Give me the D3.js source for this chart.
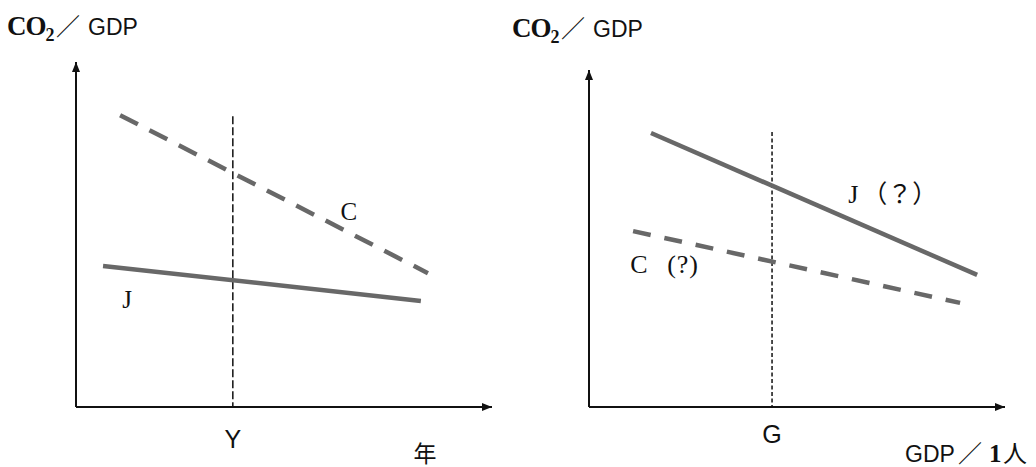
<!DOCTYPE html>
<html><head><meta charset="utf-8">
<script src="https://cdn.jsdelivr.net/npm/d3@7/dist/d3.min.js"></script>
<style>body{margin:0;background:#fff}svg{display:block}</style>
</head><body>
<script>
// ---- data (abstract units, 0..100 on both axes) ----
const leftC = [[10.6, 84.6], [84.6, 38.8]];
const leftJ = [[6.5, 40.9], [82.9, 30.7]];
const leftMark = 37.7, leftMarkTop = 84.3;
const rightJ = [[14.9, 81.3], [93.3, 39.2]];
const rightC = [[10.6, 52.2], [89.2, 30.9]];
const rightMark = 44.0, rightMarkTop = 81.6;
const leftLabels = {C: [65.6, 54.2], J: [12.3, 28.7]};
const rightLabels = {J: [62.3, 60.5], C: [9.9, 39.8]};
const tickLeft = "Y", tickRight = "G";
const xTitleLeft = "年", xTitleRight = ["GDP", "／", "1", "人"];

const W = 1036, H = 467;
const svg = d3.select("body").append("svg").attr("width", W).attr("height", H);
const gray = "#686868";
const serif = "Liberation Serif, Times New Roman, serif";
const sans = "Liberation Sans, Arial, sans-serif";
const cjk = "Noto Sans CJK JP, sans-serif";

svg.append("defs").append("marker").attr("id", "arr").attr("viewBox", "0 0 10 10")
  .attr("refX", 10).attr("refY", 5).attr("markerWidth", 10).attr("markerHeight", 10)
  .attr("markerUnits", "userSpaceOnUse").attr("orient", "auto")
  .append("path").attr("d", "M0,1 L10,5 L0,9 Z").attr("fill", "#111");

function panel(x0, x1, y0, y1, opts) {
  const x = d3.scaleLinear().domain([0, 100]).range([x0, x1]);
  const y = d3.scaleLinear().domain([0, 100]).range([y0, y1]);
  const g = svg.append("g");
  g.append("line").attr("x1", x(0)).attr("y1", y(0)).attr("x2", x(0)).attr("y2", y(100))
    .attr("stroke", "#111").attr("stroke-width", 2).attr("marker-end", "url(#arr)");
  g.append("line").attr("x1", x(0)).attr("y1", y(0)).attr("x2", x(100)).attr("y2", y(0))
    .attr("stroke", "#111").attr("stroke-width", 2).attr("marker-end", "url(#arr)");
  g.append("line").attr("x1", x(opts.mark)).attr("x2", x(opts.mark))
    .attr("y1", y(opts.markTop)).attr("y2", y(0))
    .attr("stroke", "#111").attr("stroke-width", 1.5).attr("stroke-dasharray", opts.markDash);
  const line = d3.line().x(d => x(d[0])).y(d => y(d[1]));
  g.append("path").attr("d", line(opts.solid)).attr("fill", "none")
    .attr("stroke", gray).attr("stroke-width", 4.5);
  g.append("path").attr("d", line(opts.dashed)).attr("fill", "none")
    .attr("stroke", gray).attr("stroke-width", 4.5).attr("stroke-dasharray", opts.lineDash);
  g.append("text").attr("x", x(opts.mark)).attr("y", opts.tickY).attr("text-anchor", "middle")
    .attr("font-family", sans).attr("font-size", 25)
    .attr("fill", "#111").text(opts.tick);
  return {x, y, g};
}

const L = panel(76, 492, 407, 62, {
  mark: leftMark, markTop: leftMarkTop, markDash: "8,3",
  solid: leftJ, dashed: leftC, lineDash: "20,13", tick: tickLeft, tickY: 448
});
const R = panel(589, 1005, 407, 70, {
  mark: rightMark, markTop: rightMarkTop, markDash: "4,2.5",
  solid: rightJ, dashed: rightC, lineDash: "18,14", tick: tickRight, tickY: 443
});

// titles
function title(xp, yp, gdpX) {
  const t = svg.append("text").attr("x", xp).attr("y", yp).attr("fill", "#111");
  t.append("tspan").attr("font-family", serif)
    .attr("font-weight", "bold").attr("font-size", 27).attr("letter-spacing", -1).text("CO");
  t.append("tspan").attr("font-family", serif)
    .attr("font-weight", "bold").attr("font-size", 18).attr("dy", 6).text("2");
  svg.append("text").attr("x", gdpX - 32).attr("y", yp).attr("fill", "#111")
    .attr("font-family", cjk).attr("font-size", 24).text("／");
  svg.append("text").attr("x", gdpX).attr("y", yp).attr("fill", "#111")
    .attr("font-family", sans).attr("font-size", 23).text("GDP");
}
title(7, 35, 88);
title(512, 37, 593);

svg.append("text").attr("x", L.x(leftLabels.C[0])).attr("y", L.y(leftLabels.C[1]))
  .attr("font-family", serif).attr("font-size", 25).attr("fill", "#111").attr("text-anchor", "middle").text("C");
svg.append("text").attr("x", L.x(leftLabels.J[0])).attr("y", L.y(leftLabels.J[1]))
  .attr("font-family", serif).attr("font-size", 25).attr("fill", "#111").attr("text-anchor", "middle").text("J");

// J（？）
const jx = R.x(rightLabels.J[0]), jy = R.y(rightLabels.J[1]);
svg.append("text").attr("x", jx).attr("y", jy).attr("font-family", serif)
  .attr("font-size", 26).attr("fill", "#111").text("J");
svg.append("text").attr("x", jx + 14).attr("y", jy).attr("font-family", cjk)
  .attr("font-size", 25).attr("fill", "#111").text("（？）");
// C (?)
const cx = R.x(rightLabels.C[0]), cy = R.y(rightLabels.C[1]);
svg.append("text").attr("x", cx).attr("y", cy).attr("font-family", serif)
  .attr("font-size", 26).attr("fill", "#111").text("C");
svg.append("text").attr("x", cx + 37).attr("y", cy).attr("font-family", serif)
  .attr("font-size", 26).attr("fill", "#111").attr("letter-spacing", 1).text("(?)");

// x axis titles
svg.append("text").attr("x", 425).attr("y", 462).attr("text-anchor", "middle")
  .attr("font-family", cjk).attr("font-size", 23).attr("fill", "#111").text(xTitleLeft);
svg.append("text").attr("x", 905).attr("y", 462).attr("fill", "#111")
  .attr("font-family", sans).attr("font-size", 23).text(xTitleRight[0]);
svg.append("text").attr("x", 958).attr("y", 462).attr("fill", "#111")
  .attr("font-family", cjk).attr("font-size", 24).text(xTitleRight[1]);
svg.append("text").attr("x", 989).attr("y", 462).attr("fill", "#111")
  .attr("font-family", serif).attr("font-weight", "bold").attr("font-size", 25).text(xTitleRight[2]);
svg.append("text").attr("x", 1003).attr("y", 462).attr("fill", "#111")
  .attr("font-family", cjk).attr("font-size", 24).text(xTitleRight[3]);
</script>
</body></html>
